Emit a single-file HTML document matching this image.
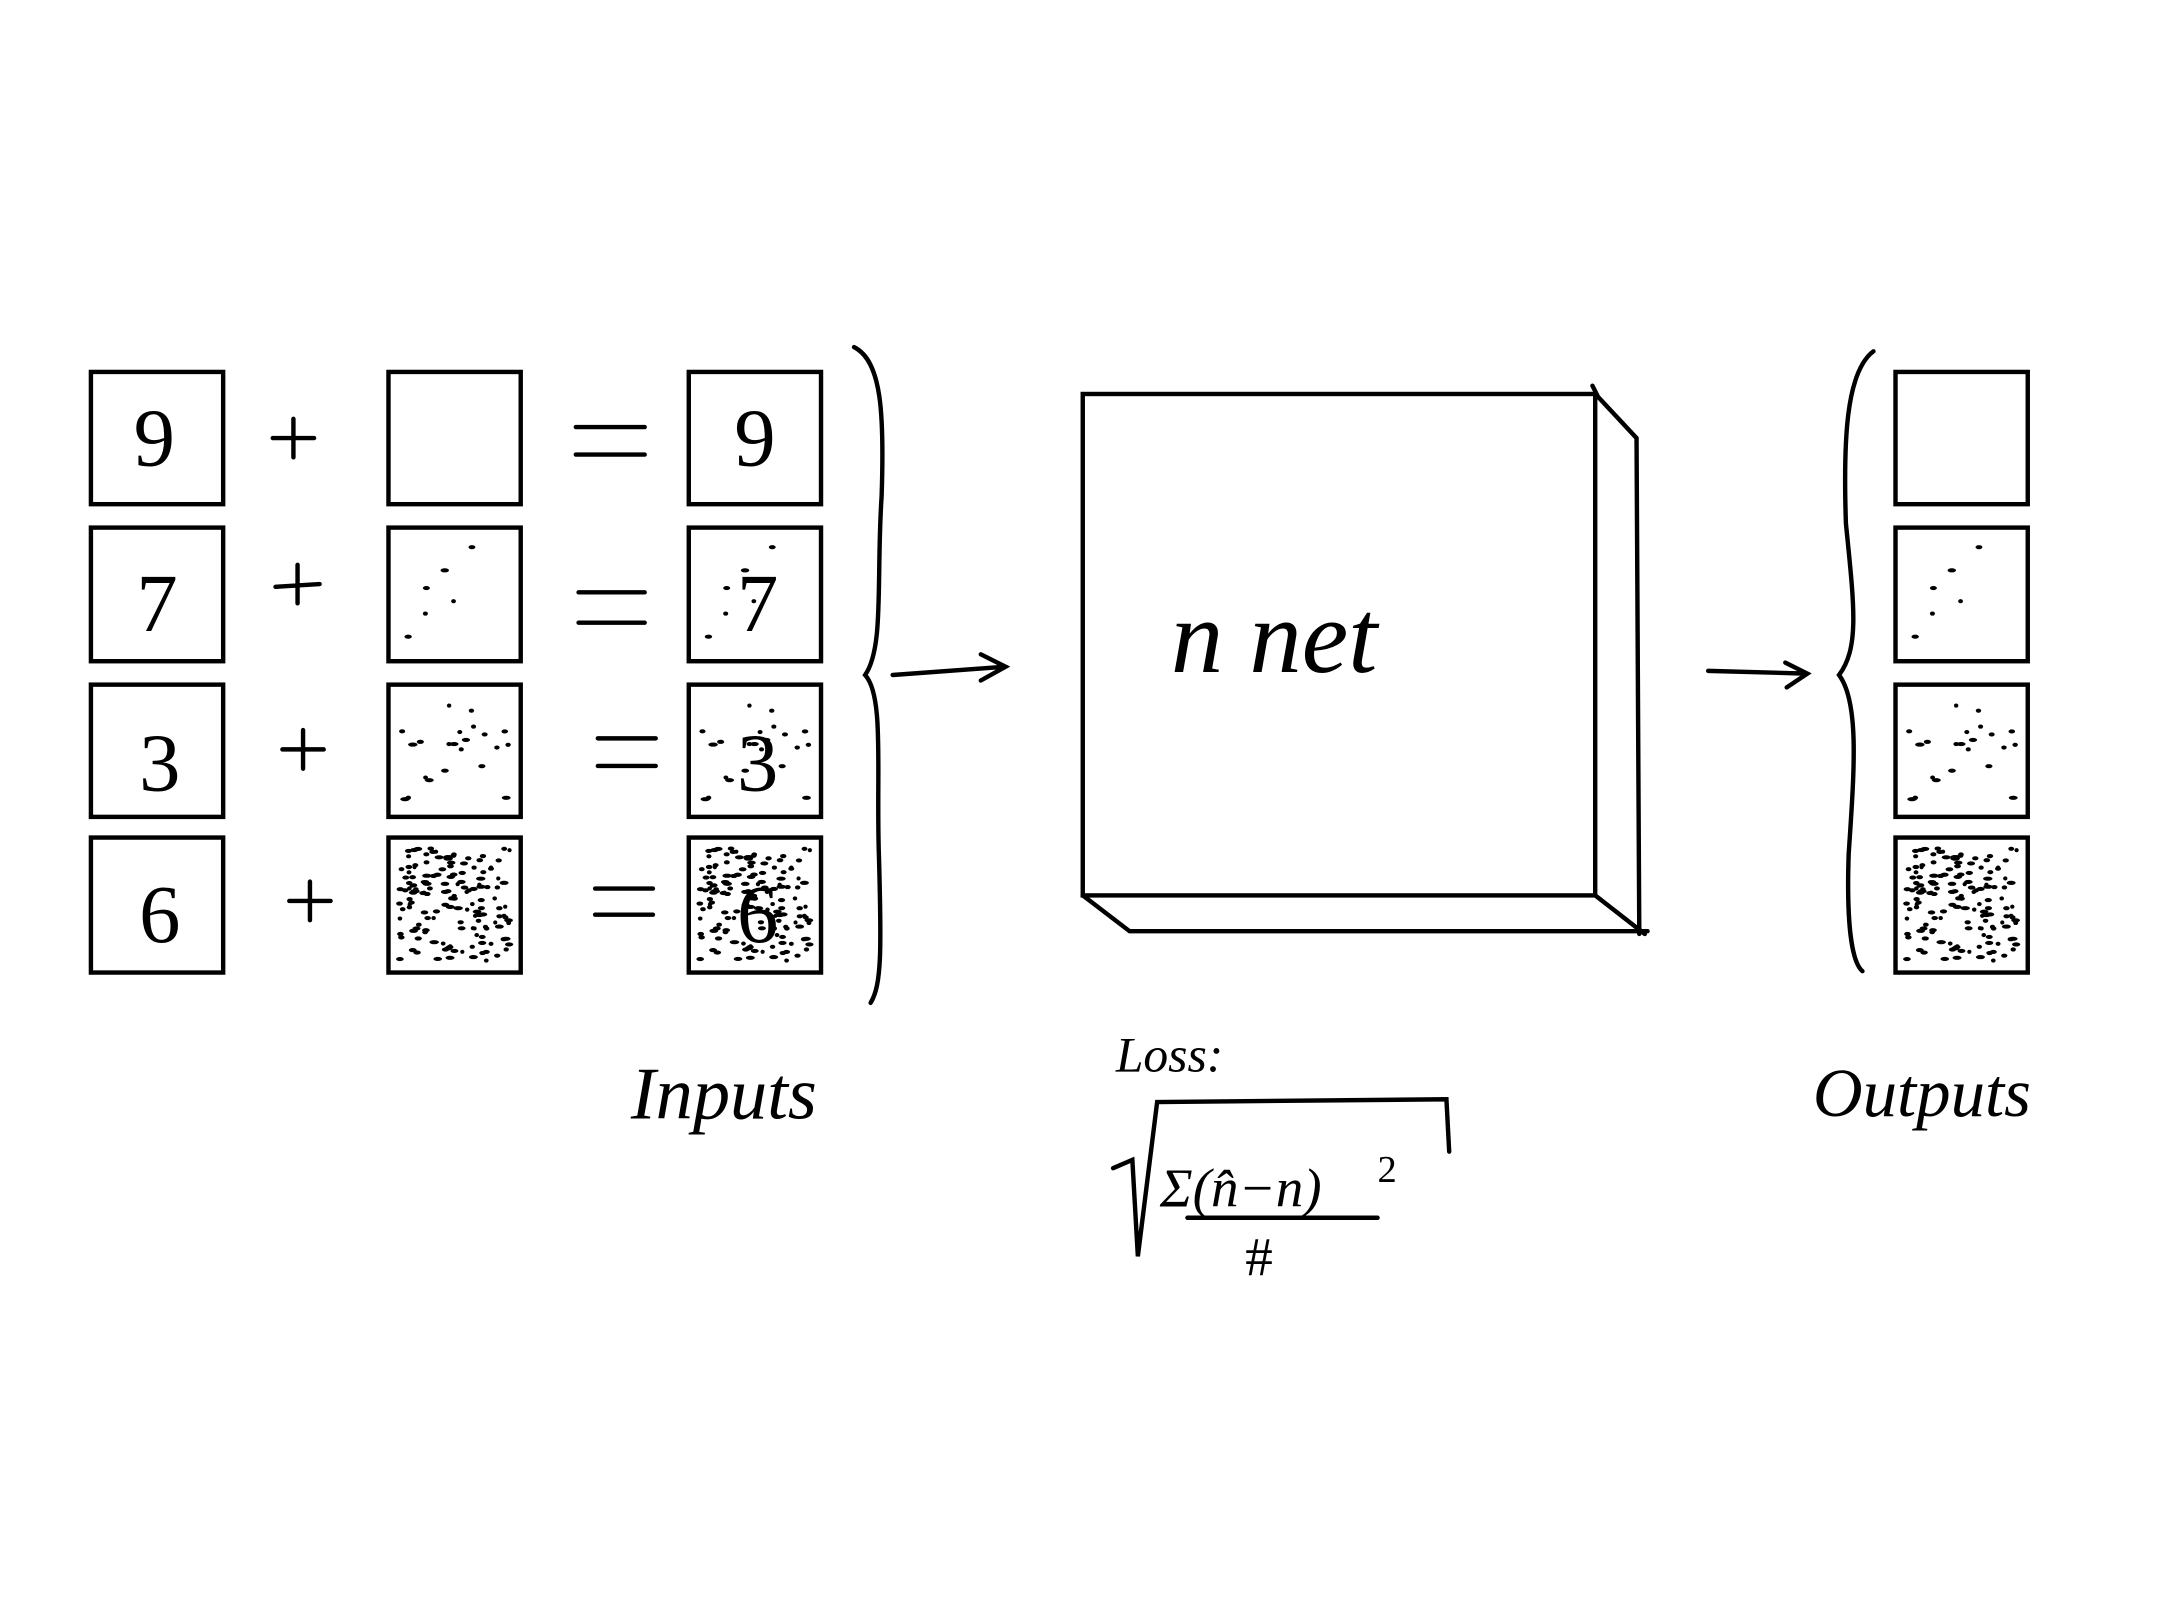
<!DOCTYPE html>
<html><head><meta charset="utf-8"><style>
html,body{margin:0;padding:0;background:#fff;}
svg{display:block;}
text{font-family:"Liberation Serif",serif;fill:#000;}
</style></head><body>
<svg id="s" width="2160" height="1620" viewBox="0 0 1568 1176" xmlns="http://www.w3.org/2000/svg">
<rect width="1568" height="1176" fill="#fff"/>
<g fill="none" stroke="#000" stroke-width="3.2" stroke-linecap="round" id="g">
<rect x="786" y="286" width="372" height="364"/>
<path d="M1156 280 L1160 288 L1188 318 L1190 678"/>
<path d="M786 650 L820 676 L1196 676"/>
<path d="M1158 650 L1194 678"/>
<path d="M620 252 C640 262 642 300 640 360 C636 420 642 470 628 490 C642 505 636 560 638 620 C640 690 640 715 632 728"/>
<path d="M1360 255 C1340 270 1338 320 1340 380 C1346 440 1350 470 1335 490 C1350 510 1346 560 1342 620 C1340 680 1346 700 1352 705"/>
<path d="M648 490 L730 484 M712 475 L730 484 L712 494"/>
<path d="M1240 487 L1312 489 M1296 481 L1312 489 L1297 499"/>
<path d="M198 318 L228 318 M213 304 L213 332"/>
<path d="M200 426 L232 424 M216 410 L216 438"/>
<path d="M205 544 L235 544 M220 530 L220 558"/>
<path d="M210 654 L240 654 M225 640 L225 668"/>
<path d="M418 310 L468 310 M418 330 L468 330"/>
<path d="M420 430 L468 430 M420 452 L468 452"/>
<path d="M434 536 L476 536 M434 556 L476 556"/>
<path d="M432 645 L474 645 M432 664 L474 664"/>
<path d="M808 848 L822 842 L826 912 L840 800 L1050 798 L1052 836"/>
<path d="M862 884 L1000 884"/>
</g>
<g font-size="60" text-anchor="middle" fill="#333">
<text x="112" y="338">9</text><text x="548" y="338">9</text>
<text x="114" y="458">7</text><text x="550" y="458">7</text>
<text x="116" y="574">3</text><text x="550" y="574">3</text>
<text x="116" y="684">6</text><text x="550" y="684">6</text>
</g>
<text x="850" y="488" font-size="76" font-style="italic">n net</text>
<text x="458" y="812" font-size="54" font-style="italic">Inputs</text>
<text x="1316" y="810" font-size="50" font-style="italic">Outputs</text>
<text x="810" y="778" font-size="36" font-style="italic">Loss:</text>
<text x="842" y="876" font-size="40" font-style="italic">Σ(n̂−n)</text>
<text x="1000" y="858" font-size="28">2</text>
<text x="904" y="926" font-size="40">#</text>
</svg>
<script>
var NS="http://www.w3.org/2000/svg",s=document.getElementById('s'),g=document.getElementById('g');
var rows=[[270,366],[383,480],[497,593],[608,706]];
var cols=[[66,162],[282,378],[500,596],[1376,1472]];
var n=[0,6,22,150];
var seed=7;function r(){seed=(seed*9301+49297)%233280;return seed/233280;}
rows.forEach(function(rw,i){
 cols.forEach(function(c){
  var rect=document.createElementNS(NS,'rect');
  rect.setAttribute('x',c[0]);rect.setAttribute('y',rw[0]);
  rect.setAttribute('width',c[1]-c[0]);rect.setAttribute('height',rw[1]-rw[0]);
  g.appendChild(rect);
 });
 var pts=[];for(var k=0;k<n[i];k++)pts.push([r(),r(),r()]);
 [1,2,3].forEach(function(ci){
  var c=cols[ci];
  pts.forEach(function(p){
   var e=document.createElementNS(NS,'ellipse');
   e.setAttribute('cx',c[0]+8+p[0]*(c[1]-c[0]-16));
   e.setAttribute('cy',rw[0]+8+p[1]*(rw[1]-rw[0]-16));
   e.setAttribute('rx',1.5+p[2]*2);e.setAttribute('ry',1.5);
   e.setAttribute('fill','#000');
   s.appendChild(e);
  });
 });
});
</script>
</body></html>
